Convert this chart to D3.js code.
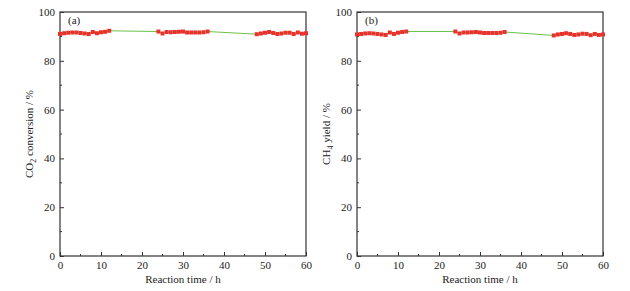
<!DOCTYPE html>
<html>
<head>
<meta charset="utf-8">
<script src="https://cdn.jsdelivr.net/npm/d3@7"></script>
<style>
  body { margin: 0; background: #fff; }
  svg text { font-family: "Liberation Serif", "DejaVu Serif", serif; fill: #222; }
</style>
</head>
<body>
<div class="chart"></div>
<script>
// reaction time (h) at which samples were taken
const hours = [0,1,2,3,4,5,6,7,8,9,10,11,12,
               24,25,26,27,28,29,30,31,32,33,34,35,36,
               48,49,50,51,52,53,54,55,56,57,58,59,60];

// panel (a): CO2 conversion, %
const co2Conv = [91.0,91.3,91.5,91.6,91.6,91.4,91.2,91.0,91.8,91.3,91.7,91.9,92.3,
                 92.0,91.2,91.8,91.7,91.8,91.9,92.0,91.6,91.6,91.6,91.6,91.7,92.0,
                 90.9,91.2,91.5,91.8,91.4,91.0,91.2,91.5,91.5,91.0,91.6,91.1,91.3];

// panel (b): CH4 yield, %
const ch4Yield = [90.8,91.0,91.2,91.3,91.2,91.0,90.8,90.6,91.6,91.0,91.5,91.8,92.0,
                  92.0,91.2,91.6,91.6,91.7,91.8,91.6,91.4,91.4,91.4,91.4,91.5,91.8,
                  90.4,90.8,91.0,91.3,91.0,90.6,90.8,91.1,91.0,90.5,91.0,90.6,90.8];

const xTicks = [0,10,20,30,40,50,60];
const yTicks = [0,20,40,60,80,100];

const serif = '"Liberation Serif", "DejaVu Serif", serif';

const svg = d3.select(".chart").append("svg")
  .attr("width", 630)
  .attr("height", 291)
  .attr("font-family", serif);

const panels = [
  {left: 60, tag: "(a)", values: co2Conv, sub: ["CO", "2", " conversion / %"]},
  {left: 357, tag: "(b)", values: ch4Yield, sub: ["CH", "4", " yield / %"]}
];

const plotTop = 12, plotBottom = 256, pw = 246;

panels.forEach(p => {
  const x = d3.scaleLinear().domain([0, 60]).range([p.left, p.left + pw]);
  const y = d3.scaleLinear().domain([0, 100]).range([plotBottom, plotTop]);
  const g = svg.append("g");

  // frame
  g.append("rect")
    .attr("x", p.left).attr("y", plotTop)
    .attr("width", pw).attr("height", plotBottom - plotTop)
    .attr("fill", "none").attr("stroke", "#333").attr("stroke-width", 1.2);

  // minor ticks
  g.selectAll(".xminor").data(d3.range(5, 60, 10)).join("line")
    .attr("x1", d => x(d)).attr("x2", d => x(d))
    .attr("y1", plotBottom).attr("y2", plotBottom - 2)
    .attr("stroke", "#333");
  g.selectAll(".yminor").data(d3.range(10, 100, 20)).join("line")
    .attr("x1", p.left).attr("x2", p.left + 2)
    .attr("y1", d => y(d)).attr("y2", d => y(d))
    .attr("stroke", "#333");

  const xAxis = g.append("g")
    .attr("transform", `translate(0,${plotBottom})`)
    .call(d3.axisBottom(x).tickValues(xTicks).tickSize(-4).tickPadding(5));
  const yAxis = g.append("g")
    .attr("transform", `translate(${p.left},0)`)
    .call(d3.axisLeft(y).tickValues(yTicks).tickSize(-4).tickPadding(5));
  [xAxis, yAxis].forEach(a => {
    a.attr("font-family", serif);
    a.select(".domain").remove();
    a.selectAll("line").attr("stroke", "#333");
    a.selectAll("text").style("font-size", "11px").attr("fill", "#222");
  });

  // series line
  const line = d3.line().x((d, i) => x(hours[i])).y(d => y(d));
  g.append("path")
    .datum(p.values)
    .attr("d", line)
    .attr("fill", "none")
    .attr("stroke", "#6cc04a")
    .attr("stroke-width", 1);

  g.selectAll(".pt").data(p.values).join("rect")
    .attr("x", (d, i) => x(hours[i]) - 2)
    .attr("y", d => y(d) - 2)
    .attr("width", 4).attr("height", 4)
    .attr("fill", "#e8332c");

  g.append("text")
    .attr("x", p.left + 8).attr("y", plotTop + 12)
    .style("font-size", "11px")
    .text(p.tag);

  g.append("text")
    .attr("x", p.left + pw / 2).attr("y", 283)
    .attr("text-anchor", "middle")
    .style("font-size", "11px")
    .text("Reaction time / h");

  const yl = g.append("text")
    .attr("transform", `translate(${p.left - 27},${(plotTop + plotBottom) / 2}) rotate(-90)`)
    .attr("text-anchor", "middle")
    .style("font-size", "11px");
  yl.append("tspan").text(p.sub[0]);
  yl.append("tspan").attr("dy", 3).style("font-size", "8px").text(p.sub[1]);
  yl.append("tspan").attr("dy", -3).text(p.sub[2]);
});
</script>
</body>
</html>
